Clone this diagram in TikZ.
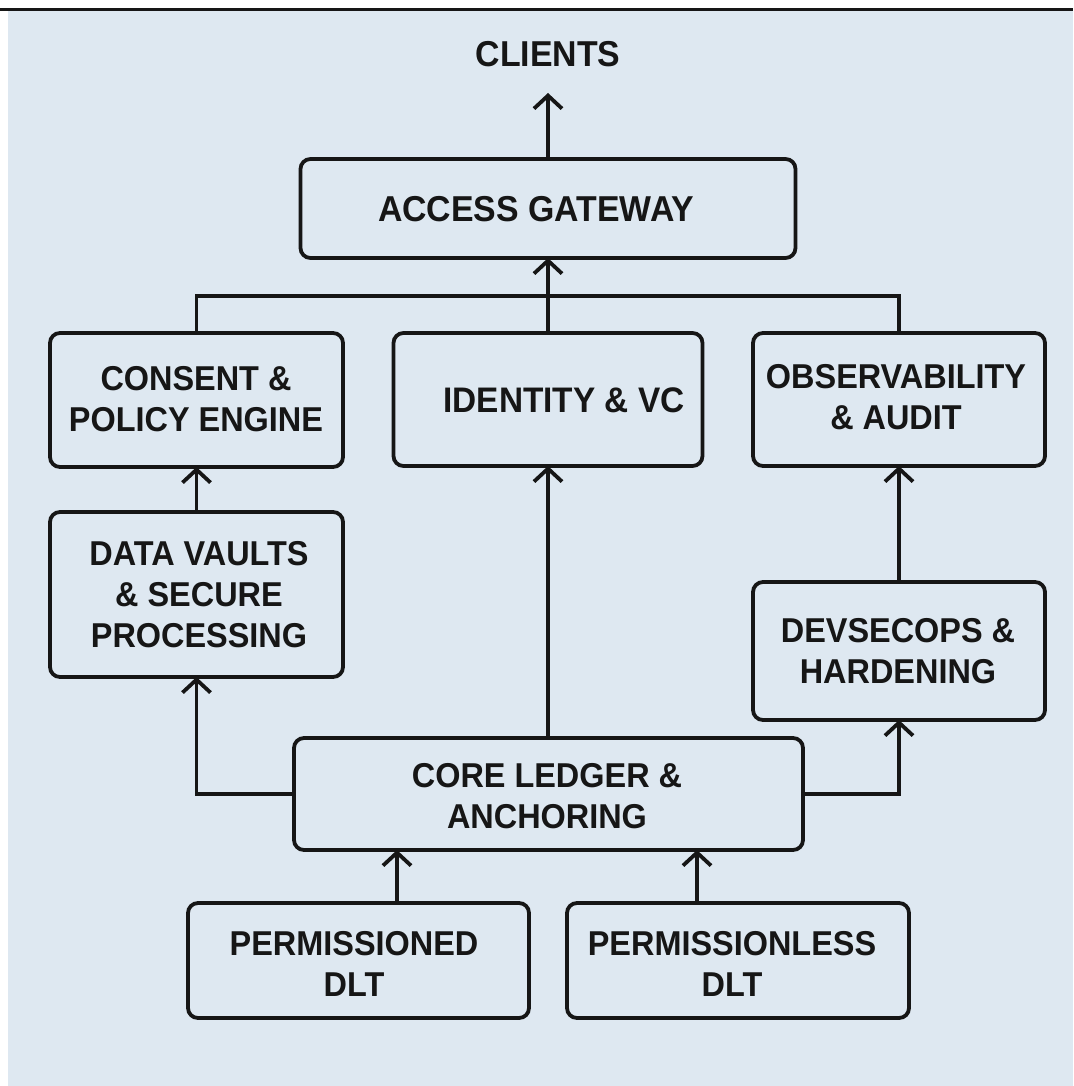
\documentclass[tikz,border=0pt]{standalone}
\usepackage{fontspec}
\setmainfont{Liberation Sans}
\newfontfamily\narrowsans{Liberation Sans}[FakeStretch=0.94]
\usetikzlibrary{arrows.meta,calc}
\definecolor{bg}{RGB}{222,232,241}
\definecolor{ink}{RGB}{22,22,22}
\tikzset{
  box/.style={draw=ink, line width=3.8pt, rounded corners=10pt, fill=bg, outer sep=0pt, inner sep=0pt},
  lbl/.style={text=ink, font=\narrowsans\bfseries\fontsize{34.5}{41}\selectfont, align=center, inner sep=0pt},
  biglbl/.style={lbl, font=\narrowsans\bfseries\fontsize{36}{41}\selectfont},
  wire/.style={draw=ink, line width=3.8pt},
  arr/.style={wire, -{Straight Barb[length=13pt,width=28pt]}}
}
\begin{document}
\begin{tikzpicture}[x=1pt,y=-1pt]
\useasboundingbox (0,0) rectangle (1073,1086);
\fill[white] (0,0) rectangle (1073,1086);
\fill[bg] (8,11) rectangle (1073,1086);
\draw[ink, line width=3pt] (0,10) -- (1073,10);

% boxes
\node[box, minimum width=495pt, minimum height=99pt] (gw) at (548,208.5) {};
\node[box, minimum width=293pt, minimum height=134pt] (consent) at (196.5,400) {};
\node[box, minimum width=309pt, minimum height=133pt] (identity) at (548,399.5) {};
\node[box, minimum width=292pt, minimum height=133pt] (observ) at (899,399.5) {};
\node[box, minimum width=293pt, minimum height=165pt] (vaults) at (196.5,594.5) {};
\node[box, minimum width=292pt, minimum height=138pt] (devsec) at (899,651) {};
\node[box, minimum width=509pt, minimum height=112pt] (core) at (548.5,794) {};
\node[box, minimum width=341pt, minimum height=115pt] (perm) at (358.5,960.5) {};
\node[box, minimum width=342pt, minimum height=115pt] (permless) at (738,960.5) {};

% labels
\node[biglbl] (clientsT) at (548,54.5) {CLIENTS};
\node[biglbl] (gwT) at (536,209) {ACCESS GATEWAY};
\node[lbl] (consentT) at (196,399) {CONSENT \&\\POLICY ENGINE};
\node[lbl, font=\narrowsans\bfseries\fontsize{35.5}{41}\selectfont] (identityT) at (564,400) {IDENTITY \& VC};
\node[lbl] (observT) at (896,397.5) {OBSERVABILITY\\\& AUDIT};
\node[lbl] (vaultsT) at (199,594.5) {DATA VAULTS\\\& SECURE\\PROCESSING};
\node[lbl] (devsecT) at (898,651.5) {DEVSECOPS \&\\HARDENING};
\node[lbl] (coreT) at (547,796.5) {CORE LEDGER \&\\ANCHORING};
\node[lbl] (permT) at (354,964) {PERMISSIONED\\DLT};
\node[lbl] (permlessT) at (732,964) {PERMISSIONLESS\\DLT};

% connectors
\coordinate (cltip) at (548,93);
\coordinate (bus) at (548,296);
\draw[arr] (gw.north) -- (cltip);
\draw[wire] (consent.north) -- (consent.north |- bus) -- (observ.north |- bus) -- (observ.north);
\draw[arr] (identity.north) -- (gw.south);
\draw[arr] (vaults.north) -- (consent.south);
\draw[arr] (devsec.north) -- (observ.south);
\draw[arr] (core.north -| identity.south) -- (identity.south);
\draw[arr] (core.west) -| (vaults.south);
\draw[arr] (core.east) -| (devsec.south);
\draw[arr] ([xshift=38.5pt]perm.north) -- ([xshift=38.5pt]perm.north |- core.south);
\draw[arr] ([xshift=-41pt]permless.north) -- ([xshift=-41pt]permless.north |- core.south);
\end{tikzpicture}
\end{document}
